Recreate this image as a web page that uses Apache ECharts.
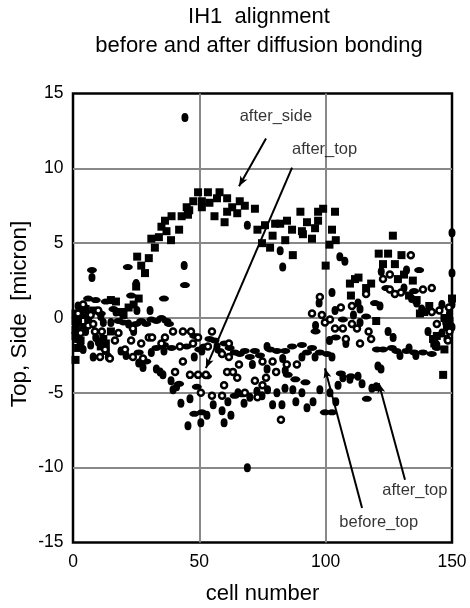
<!DOCTYPE html>
<html><head><meta charset="utf-8">
<style>html,body{margin:0;padding:0;background:#fff}#c{width:470px;height:608px}</style>
<script src="https://cdn.jsdelivr.net/npm/echarts@6/dist/echarts.min.js"></script>
</head><body><div id="c"></div>
<script>
var titleLines = ['IH1  alignment', 'before and after diffusion bonding'];
var xTicks = [0, 50, 100, 150];
var yTicks = [-15, -10, -5, 0, 5, 10, 15];

// after_side: filled squares [cell, micron]
var afterSide = [[1,0.3],[2,-0.3],[3,0.6],[4,-0.6],[5,0.2],[1,-1.2],[2,-2],[1,-2.8],[1,-0.8],[3,-1.5],[5,0.6],[6,-0.2],[8,0.5],[12,-1.4],[13,-2.2],[15,-0.9],[13,-1.7],[11,-1.9],[1,-0.2],[2,-1.4],[4,0.2],
[15,1.2],[17,1.1],[19,0.4],[20,0.2],[22,0.7],[24,0.9],[26,1.3],[25,2.1],[28.5,3],[27,3.5],[25.4,4.1],[30,4],[31,5.3],[34,5.4],[32.4,4.7],[38.8,5.2],[42,5.9],[37,5.8],[35,6.1],[36.4,6.5],[39,6.8],[43,6.8],[45.5,6.9],[45,7.4],[46,7.2],[47.6,7.8],[49.5,8.4],[53.4,8.4],[58,8.4],[51,7.4],[51,7.8],[54,7.7],[57,8],[61,8],[66,7.8],[68,7.5],[56,6.8],[60,6.4],[61,7.1],[63,7.4],[65,7],[72,7.3],[73,5.9],[74.8,5],[76,6.2],[78,4.7],[79,5.5],[80,6.3],[82,6.3],[84,5.2],[84.7,6.5],[86.7,5.9],[87,4.2],[90,7.1],[90.6,5.8],[91,5.6],[92.6,6.4],[94.6,5.3],[95.8,6],[97,7.1],[97,6.5],[99,7.3],[100,3.5],[101.5,4.9],[102.5,5.9],[103.7,7.1],[104,5.2],[109.6,2.3],[110,1.5],[111.6,2.6],[113,2.7],[116,2],[118,2.3],[120,-0.2],[121,4.3],[124.7,4.3],[126.6,5.5],[128.6,2.6],[130,4.2],[122.7,3.6],[127.4,3.6],[131,2.9],[134.5,2.5],[133,1.5],[136,1.2],[137.3,0.3],[141,0.8],[139,0.4],[142.5,-1.4],[144,-1.2],[143,-1.7],[146.5,-3.8],[147,-2.1],[148,-0.6],[149,-0.2],[147,0],[150,1.3]];

// before_top: open circles
var beforeTop = [[2,0.3],[3,-1],[4,0.9],[6,-0.5],[7,0.2],[8,-0.4],[8.7,-0.9],[10,0.5],[11.4,-0.9],[10.7,-2.6],[12.7,-2.1],[14.6,-2.7],[16.6,-1.5],[18,-1],[20.6,-2.1],[23,-1.5],[23.7,-0.7],[23.7,-2.6],[27,-1.7],[27.7,-2.7],[30,-1.3],[31.3,-1.3],[35,-1.7],[36.4,-1.3],[39.6,-0.9],[40.4,-3.6],[42.3,-1.9],[43.5,-0.9],[43.5,-2.9],[46.3,-3.8],[46.7,-0.9],[47.5,-1.7],[49.5,-1.3],[49.5,-3.8],[50.6,-5],[52.6,-3.8],[53.4,-1.9],[55,-0.9],[55,-5.2],[59,-2.4],[59,-5.2],[59.8,-4.5],[61,-3.6],[61.7,-1.7],[61.7,-2.6],[63.3,-3.6],[65,-4],[65.7,-3.1],[68,-5],[72,-4.2],[73,-5.3],[75,-2.9],[75,-4.5],[76.4,-4],[79,-2.9],[80.4,-3.6],[82.3,-6.8],[84.6,-3.1],[88.6,-3.1],[94.6,0.3],[97.7,1.4],[98.5,0.2],[99.7,-0.3],[101.7,-0.1],[103.7,-0.7],[106,0.7],[106.8,-0.7],[108,-1.4],[110.4,0.8],[110.4,-0.4],[112.4,-0.7],[113.6,-1.7],[116,1.6],[117,-0.9],[118,-1.4],[122.7,2.6],[125.4,2.9],[125.4,1.9],[127.4,1.6],[129.8,1.7],[133.7,4.2],[138.5,1.9],[142,2],[142,0.4],[144,-0.4],[145,0.5],[148.4,-1.5],[148.8,0.7],[149,-0.9]];

// after_top: flat filled ellipses
var afterTop = [[4,0.8],[6,1.3],[7.5,3.2],[9,1.2],[11,0.3],[13,1.1],[16,0.6],[18,-0.2],[20,-0.3],[21.7,3.4],[23,1.5],[25,-0.4],[27,-0.2],[29,-0.4],[31,-0.1],[33,-0.2],[35,0],[36,1.3],[37,-0.2],[38,-0.4],[44.3,2.2],[26,-2.3],[29,-2.9],[33,-2],[36,-1.8],[39,-2],[42,-4.4],[45,-1.9],[48,-1.2],[50,-2.1],[52,-1.9],[54,-1.4],[56,-1.5],[58,-2.2],[60,-1.7],[62,-2],[64,-2.3],[66,-2.4],[68,-2.2],[70,-2.6],[72,-2.2],[74,-2.5],[78,-2.1],[80.7,-2.2],[84,-2.2],[86.7,-1.9],[90.6,-1.8],[92.6,-2.3],[94.6,-2],[97.7,-2.3],[100.5,-2.4],[99.7,-6.3],[102.5,-6.3],[53,-3.9],[49,-4.6],[64,-5.2],[67,-5.1],[116.3,-5.4],[120.3,-2.1],[122.7,-2.1],[126.2,-2],[128,-2.2],[132,-2.2],[135,-2.3],[138.5,-2.3],[142,-2.4],[144,-2],[137,3.2],[106.8,-0.1],[116,0.1],[119.5,1],[124,2],[135,1.8],[104,-1.3],[96,-0.9],[92,-4.3],[88,-4.1],[85,-3.8],[106,-3.7],[110,-3.9],[48,-6.4],[51,-6.3]];

// before_side: round or upright filled dots
var beforeSide = [[1,-0.6],[2,0.8],[3,-1.7],[4,-2.1],[5,-0.9],[6,0.2],[7.5,2.7],[7,-1.8],[8,-2.6],[9,-1.3],[10,-1.6],[11,0.1],[12,-0.3],[14,-2.6],[15,-0.3],[17,0.4],[19,-2.2],[21,-2.5],[22,-0.4],[25,2.3],[25.3,0.5],[24,-0.9],[26,-3],[27.7,-3.3],[30.5,0.5],[31,-2.3],[33,-3.4],[34.5,-3.6],[35.6,-3.8],[36,-2.2],[38.8,-4.2],[39.6,-4.8],[41,-4.6],[42.7,-5.7],[44,3.5],[44.3,13.4],[45.5,-7.2],[46.3,-5.4],[48,-2.6],[50.6,-7],[51,-2.2],[53,-6.5],[55.5,-5.8],[57,-1.9],[59,-6.2],[59.8,-7],[61.3,-5.6],[62.5,-6.5],[65.3,-5],[67.7,-5.7],[69,-10],[69,6.2],[70,-5.3],[71,-3.1],[72.8,-4.9],[74.8,-5.2],[76.8,-1.9],[76.8,-3.4],[77,-4.8],[79,-5.8],[80.7,-5],[82,4.5],[82.7,-5.8],[83,3.4],[83,-2.7],[83.9,-4.7],[84,-3.5],[87,-4.8],[88.2,-5.6],[90.6,-5],[90.6,-2.6],[92.6,-6],[95,-5.6],[95.8,-2.6],[96,-0.5],[97.4,1],[97.7,-4.8],[101.7,-5],[101.5,-1.5],[102.5,-2.6],[102.5,1.7],[103.7,0.5],[104,-5.6],[104.9,-4.5],[105.6,4.1],[106.8,-4],[107.6,3.8],[108,-1.7],[109.6,-4.1],[111,0.2],[112.8,-3.9],[112.8,1],[113.6,0.6],[113.6,-0.3],[114.4,-4.4],[118.3,-4.7],[120,-4.6],[120.7,-3.2],[121.5,0.8],[121.9,-3.4],[122,3.1],[124.7,-0.9],[126.7,-1.3],[129.4,-2.5],[131,2],[132,3.2],[133,-2],[134,1.3],[135.7,-2.5],[136,1],[138,0.6],[140.5,-0.9],[144,-1.8],[146,0.9],[146,-1],[147.5,-0.3],[148,-1.4],[149,0.3],[150,5.7],[150,3],[150,0.9],[150,-0.6]];

// annotation arrows: [tail cell, tail micron, tip cell, tip micron]
var arrowLines = [[76.4,12,65.7,8.8],[86.7,10.05,52.6,-3.35],[114.4,-12.7,99.7,-3.35],[131.4,-10.8,121,-4.35]];
// annotation texts: [label, cell, micron]
var noteTexts = [['after_side',80.3,13.46],['after_top',99.6,11.25],['after_top',135.3,-11.5],['before_top',121,-13.66]];

var font = 'Liberation Sans, Arial, sans-serif';
var dots = function (name, data, symbol, size, fill, border, bw) {
  return { name: name, type: 'scatter', data: data, symbol: symbol, symbolSize: size, clip: false, z: 3,
    itemStyle: { color: fill, borderColor: border, borderWidth: bw, opacity: 1 },
    emphasis: { disabled: true }, animation: false };
};
var arrowSeries = {
  type: 'scatter', data: [], silent: true, animation: false, z: 5,
  markLine: {
    silent: true, animation: false, symbol: ['none', 'arrow'], symbolSize: [6, 10], precision: 4,
    lineStyle: { color: '#000', width: 2, type: 'solid' }, label: { show: false },
    data: arrowLines.map(function (a) { return [{ coord: [a[0], a[1]] }, { coord: [a[2], a[3]] }]; })
  }
};
var noteSeries = {
  type: 'scatter', symbolSize: 0, silent: true, animation: false, z: 6,
  data: noteTexts.map(function (t) { return { value: [t[1], t[2]], label: { formatter: t[0] } }; }),
  label: { show: true, position: 'inside', color: '#000', fontFamily: font, fontSize: 16.5 }
};

var chart = echarts.init(document.getElementById('c'), null, { renderer: 'canvas' });
chart.setOption({
  backgroundColor: '#fff', animation: false,
  title: {
    text: titleLines.join('\n'), left: 254, top: -2, textAlign: 'center',
    textStyle: { fontFamily: font, fontSize: 22, fontWeight: 'normal', color: '#000', lineHeight: 28.5 }
  },
  grid: { left: 73, right: 18, top: 93.5, bottom: 65.5, outerBoundsMode: 'none', show: true, borderColor: '#000', borderWidth: 2.5, backgroundColor: 'transparent' },
  xAxis: {
    type: 'value', min: 0, max: 150, interval: 50,
    name: 'cell number', nameLocation: 'middle', nameGap: 40, nameMoveOverlap: false,
    nameTextStyle: { fontFamily: font, fontSize: 22, color: '#000' },
    axisLine: { show: false }, axisTick: { show: false },
    axisLabel: { fontFamily: font, fontSize: 17.5, color: '#000', margin: 10.5, hideOverlap: false,
      formatter: function (v) { return xTicks.indexOf(v) >= 0 ? String(v) : ''; } },
    splitLine: { show: true, showMinLine: false, showMaxLine: false, lineStyle: { color: '#888', width: 2 } }
  },
  yAxis: {
    type: 'value', min: -15, max: 15, interval: 5,
    name: 'Top, Side  [micron]', nameLocation: 'middle', nameGap: 42, nameRotate: 90, nameMoveOverlap: false,
    nameTextStyle: { fontFamily: font, fontSize: 22.5, color: '#000', padding: [0, 0, 0, 8] },
    axisLine: { show: false }, axisTick: { show: false },
    axisLabel: { fontFamily: font, fontSize: 17.5, color: '#000', margin: 9.5,
      formatter: function (v) { return yTicks.indexOf(v) >= 0 ? String(v) : ''; } },
    splitLine: { show: true, showMinLine: false, showMaxLine: false, lineStyle: { color: '#888', width: 2 } }
  },
  series: [
    dots('after_side', afterSide, 'rect', 8, '#000', '#000', 0),
    dots('before_side', beforeSide, 'circle', [7, 9], '#000', '#000', 0),
    dots('after_top', afterTop, 'circle', [10, 6], '#000', '#000', 0),
    dots('before_top', beforeTop, 'circle', 6, '#fff', '#000', 2.5),
    arrowSeries, noteSeries
  ]
});
</script></body></html>
